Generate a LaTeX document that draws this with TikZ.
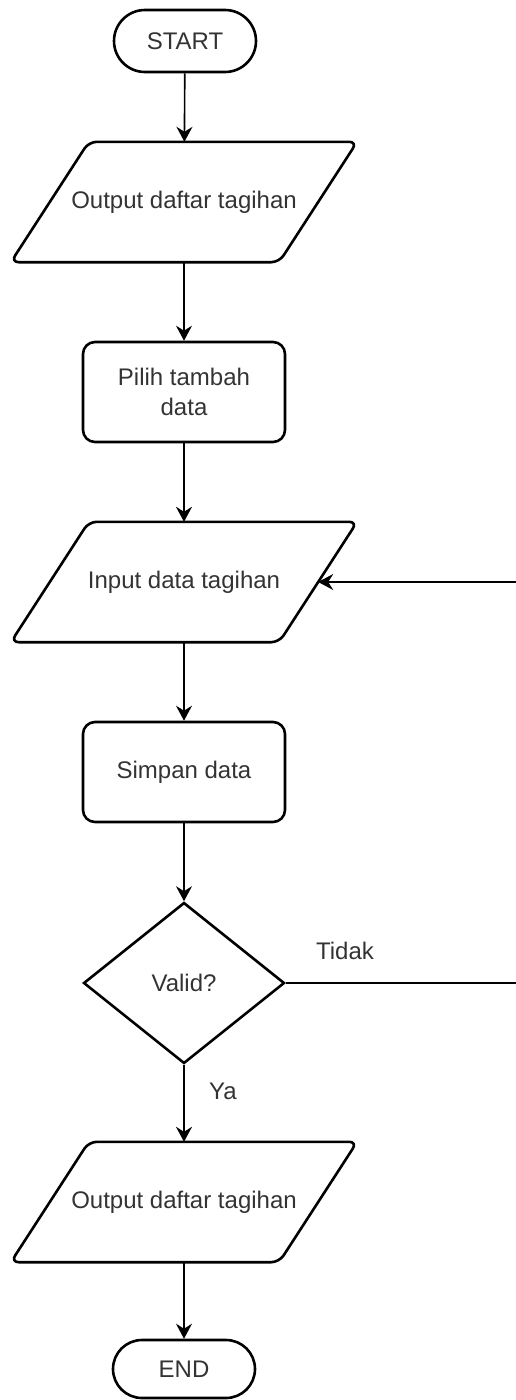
\documentclass[tikz,border=0pt]{standalone}
\usepackage{fontspec}
\setmainfont{Liberation Sans}
\usetikzlibrary{shapes.geometric,shapes.misc,arrows.meta}
\newcommand\drawio[1]{\draw[line width=2.6pt, rounded corners=8pt] ([xshift=39pt]#1.north west) -- ([xshift=39pt]#1.north east) -- ([xshift=-39pt]#1.south east) -- ([xshift=-39pt]#1.south west) -- cycle;}
\begin{document}
\begin{tikzpicture}[x=1pt,y=1pt,
  txt/.style={font=\fontsize{24}{30}\selectfont, text=black!80},
  shp/.style={draw=black, line width=2.6pt, txt},
  term/.style={shp, rounded rectangle, minimum width=142pt, minimum height=62pt, inner sep=0pt},
  proc/.style={shp, rounded corners=12pt, minimum width=202pt, minimum height=100pt, align=center, inner sep=0pt},
  io/.style={txt, minimum width=268pt, minimum height=120pt, inner sep=0pt},
  dec/.style={shp, diamond, minimum width=201pt, minimum height=161pt, inner sep=0pt, aspect=1.25},
  conn/.style={line width=1.6pt, -{Stealth[length=15pt,width=16pt,inset=5pt]}},
  lbl/.style={txt}]
\useasboundingbox (0,0) rectangle (516,-1400);
\clip (0,0) rectangle (516,-1400);
\node[term] (start) at (185,-41) {START};
\node[io] (out1) at (184,-202) {Output daftar tagihan};
\drawio{out1}
\node[proc] (pilih) at (184,-392) {Pilih tambah\\data};
\node[io] (input) at (184,-582) {Input data tagihan};
\drawio{input}
\node[proc] (simpan) at (184,-772) {Simpan data};
\node[dec] (valid) at (184,-983) {Valid?};
\node[io] (out2) at (184,-1202) {Output daftar tagihan};
\drawio{out2}
\node[term, minimum height=58pt] (end) at (184,-1369) {END};
\node[lbl] (tidak) at (345,-951) {Tidak};
\node[lbl] (ya) at (223,-1091) {Ya};
\coordinate (loop) at (545,-983);
\draw[conn] (start) -- (out1);
\draw[conn] (out1) -- (pilih);
\draw[conn] (pilih) -- (input);
\draw[conn] (input) -- (simpan);
\draw[conn] (simpan) -- (valid);
\draw[conn] (valid) -- (out2);
\draw[conn] (out2) -- (end);
\draw[conn, line width=1.4pt] (valid.east) -- (loop) |- (input.east);
\end{tikzpicture}
\end{document}
